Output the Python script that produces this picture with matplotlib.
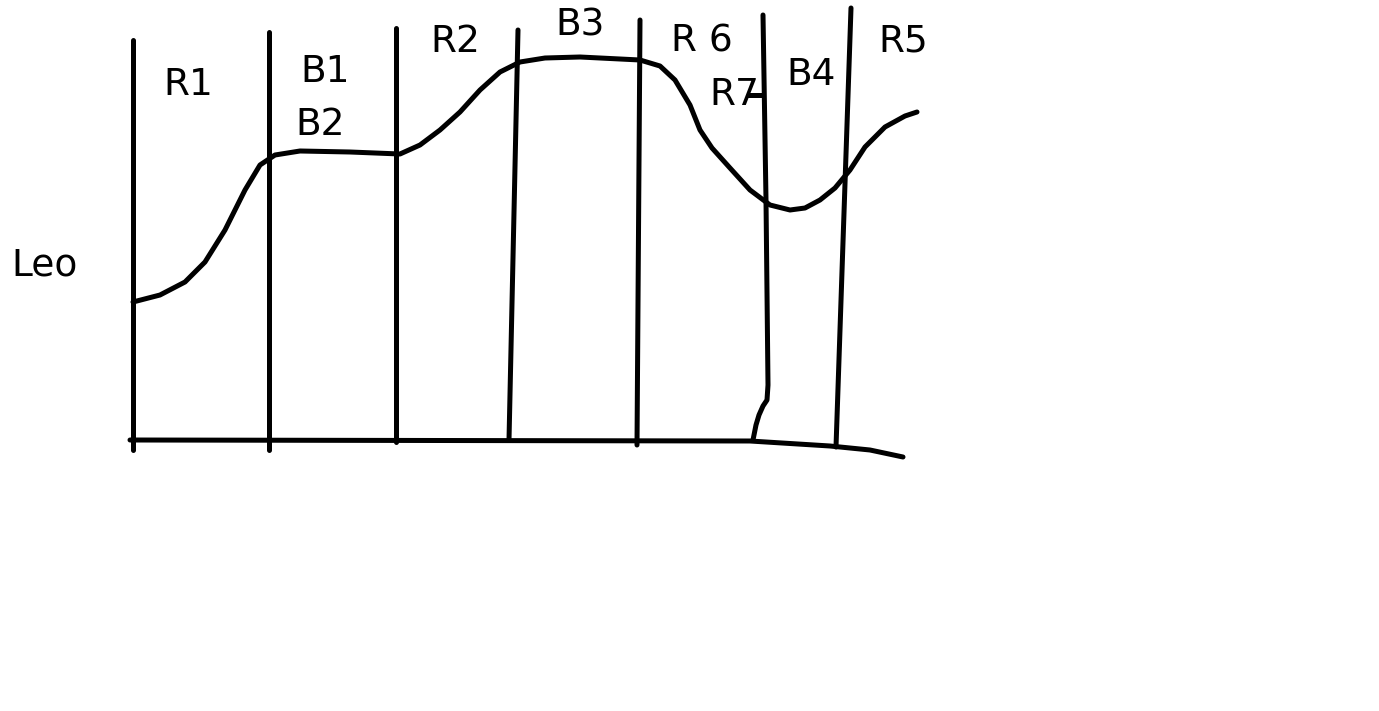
import numpy as np
import matplotlib.pyplot as plt

# sketch coordinates (x right, level up from the base line)
curve_x = [133, 160, 185, 205, 225, 245, 260, 275, 300, 350, 400, 420, 440, 460,
           480, 500, 520, 545, 580, 640, 660, 675, 690, 700, 712, 730, 750, 770,
           790, 805, 820, 835, 850, 865, 885, 905, 917]
curve_level = [138, 145, 158, 178, 210, 250, 275, 285, 289, 288, 286, 295, 310, 328,
               350, 368, 378, 382, 383, 380, 374, 360, 335, 310, 292, 272, 250, 235,
               230, 232, 240, 252, 270, 293, 313, 324, 328]

# region dividers: (x at top, top level, x at bottom, bottom level)
div_top_x = [133, 269, 396, 518, 640, 763, 851]
div_top = [400, 408, 412, 410, 420, 425, 432]
div_bot_x = [133, 269, 396, 509, 637, 753, 836]
div_bot = [-10, -10, -2, 0, -5, 0, -7]

# the B4/R7 divider bends near the bottom
bent_x = [763, 766, 768, 767, 763, 759, 756, 753]
bent_level = [425, 240, 55, 40, 34, 25, 15, 0]

base_x = [130, 750, 830, 870, 903]
base_level = [0, -1, -6, -10, -17]

labels = ['R1', 'B1', 'B2', 'R2', 'B3', 'R 6', 'R7', 'B4', 'R5']
label_x = [188, 325, 320, 455, 580, 702, 734, 811, 903]
label_level = [355, 368, 315, 398, 415, 398, 345, 365, 398]

y_label = 'Leo'

fig = plt.figure(figsize=(13.79, 7.11), dpi=100)
ax = fig.add_axes([0, 0, 1, 1])
ax.set_xlim(0, 1379)
ax.set_ylim(440 - 711, 440)
ax.axis('off')

lw = 3.6
ax.plot(curve_x, curve_level, color='black', lw=lw, solid_capstyle='round',
        solid_joinstyle='round')
ax.plot(base_x, base_level, color='black', lw=lw, solid_capstyle='round')
for i in range(len(div_top_x)):
    if i == 5:
        ax.plot(bent_x, bent_level, color='black', lw=lw, solid_capstyle='round',
                solid_joinstyle='round')
    else:
        ax.plot([div_top_x[i], div_bot_x[i]], [div_top[i], div_bot[i]],
                color='black', lw=lw, solid_capstyle='round')

# little stroke from R7 to the divider
ax.plot([750, 763], [345, 345], color='black', lw=lw)

for t, x, y in zip(labels, label_x, label_level):
    ax.text(x, y, t, fontsize=27, ha='center', va='center', fontfamily='DejaVu Sans')

ax.text(45, 175, y_label, fontsize=27, ha='center', va='center', fontfamily='DejaVu Sans')

fig.savefig('out.png', dpi=100, facecolor='white')
